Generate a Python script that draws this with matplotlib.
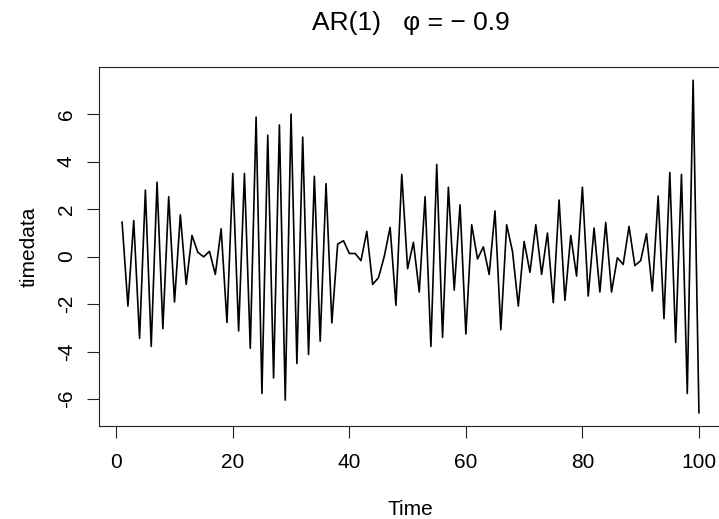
from matplotlib import pyplot as plt

plt.rcParams['font.family'] = ['Liberation Sans', 'DejaVu Sans']

# values
time = list(range(1, 101))
timedata = [
    1.45, -2.08, 1.52, -3.44, 2.80, -3.78, 3.13, -3.03, 2.52, -1.91,
    1.76, -1.17, 0.89, 0.18, -0.01, 0.22, -0.75, 1.17, -2.77, 3.50,
    -3.13, 3.50, -3.86, 5.87, -5.76, 5.11, -5.11, 5.54, -6.04, 6.00,
    -4.50, 5.03, -4.12, 3.38, -3.56, 3.07, -2.79, 0.53, 0.67, 0.13,
    0.13, -0.17, 1.06, -1.17, -0.89, 0.01, 1.23, -2.05, 3.46, -0.51,
    0.60, -1.49, 2.52, -3.78, 3.88, -3.40, 2.92, -1.41, 2.18, -3.26,
    1.34, -0.10, 0.41, -0.75, 1.92, -3.08, 1.34, 0.22, -2.08, 0.64,
    -0.66, 1.34, -0.75, 0.99, -1.94, 2.38, -1.84, 0.89, -0.82, 2.92,
    -1.66, 1.20, -1.49, 1.44, -1.49, -0.05, -0.33, 1.27, -0.38, -0.17,
    0.96, -1.45, 2.55, -2.61, 3.54, -3.61, 3.46, -5.76, 7.42, -6.57,
]
xticks = [0, 20, 40, 60, 80, 100]
yticks = [-6, -4, -2, 0, 2, 4, 6]

fig = plt.figure(figsize=(7.19, 5.19), dpi=100)
# the reference is cut off on the right, so the box runs past the edge
ax = fig.add_axes([0.1377, 0.1792, 0.8665, 0.6917])

ax.plot(time, timedata, color='black', linewidth=1.2)

# R style 4% padding
lo, hi = min(timedata), max(timedata)
ax.set_ylim(lo - 0.04 * (hi - lo), hi + 0.04 * (hi - lo))
ax.set_xlim(1 - 0.04 * 99, 100 + 0.04 * 99)

ax.set_xticks(xticks)
ax.set_yticks(yticks)
ax.set_xticklabels([str(t) for t in xticks])
ax.set_yticklabels([str(t) for t in yticks], rotation=90, va='center')
ax.tick_params(direction='out', length=8.6, width=0.8, labelsize=15,
               color='#222222')
ax.tick_params(axis='x', pad=11)
ax.tick_params(axis='y', pad=8)

for s in ax.spines.values():
    s.set_linewidth(0.8)
    s.set_color('#222222')

ax.set_xlabel('Time', fontsize=15, labelpad=20)
ax.set_ylabel('timedata', fontsize=15, labelpad=13)
ax.set_title('AR(1)   φ = \u2212 0.9', fontsize=19, pad=27)

fig.savefig('out.png', dpi=100)
